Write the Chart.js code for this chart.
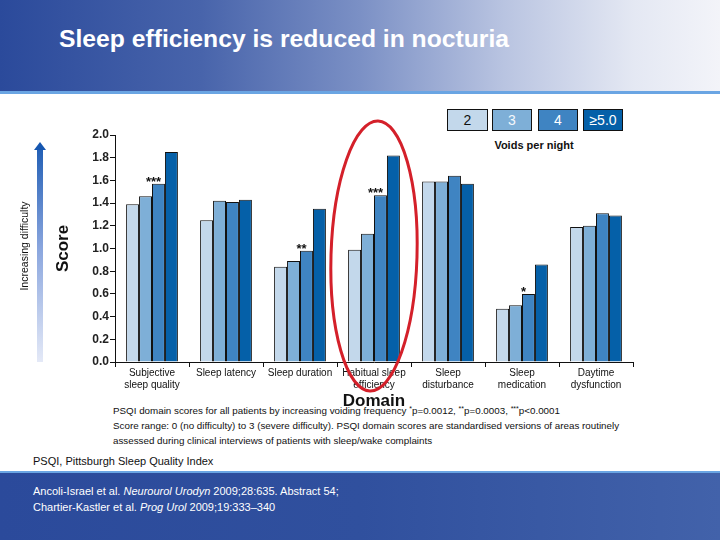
<!DOCTYPE html>
<html>
<head>
<meta charset="utf-8">
<script src="https://cdn.jsdelivr.net/npm/chart.js@4.4.0/dist/chart.umd.min.js"></script>
<style>
body { margin: 0; width: 720px; height: 540px; position: relative; overflow: hidden; background: #fff; font-family: "Liberation Sans", Arial, sans-serif; }
#header { position: absolute; left: 0; top: 0; width: 720px; height: 92px;
  background: linear-gradient(90deg, #2b4a9b 0%, #4864ab 28%, #7b90c5 50%, #b9c4e1 70%, #e4e8f3 88%, #f3f4f9 100%); }
#header h1 { position: absolute; left: 59px; top: 25px; margin: 0; font-size: 24.7px; line-height: 28px; font-weight: bold; color: #fff; white-space: nowrap; }
#headerStripe { position: absolute; left: 0; top: 91px; width: 720px; height: 3px; background: #6aa5e3; }
#footerStripe { position: absolute; left: 0; top: 471px; width: 720px; height: 2px; background: #6aa5e3; }
#footer { position: absolute; left: 0; top: 473px; width: 720px; height: 67px;
  background: linear-gradient(90deg, #2b4a9b 0%, #30509e 50%, #4262aa 100%); }
#refs { position: absolute; left: 33px; top: 10px; color: #fff; font-size: 11px; line-height: 16px; }
#abbrev { position: absolute; left: 33px; top: 455px; font-size: 11px; color: #111; }
#notes { position: absolute; left: 113px; top: 403px; font-size: 9.8px; line-height: 15px; color: #111; white-space: nowrap; }
#notes sup { font-size: 7px; vertical-align: 3px; line-height: 0; }
.legBox { position: absolute; top: 109px; height: 20px; border: 1px solid #111; font-size: 14px; line-height: 20px; text-align: center; }
#legTitle { position: absolute; left: 434px; width: 200px; top: 139px; text-align: center; font-size: 11px; font-weight: bold; color: #111; }
canvas { position: absolute; left: 0; top: 0; }
</style>
</head>
<body>
<div id="header"><h1>Sleep efficiency is reduced in nocturia</h1></div>
<div id="headerStripe"></div>
<div id="legend"></div>
<div id="legTitle">Voids per night</div>
<div id="notes">PSQI domain scores for all patients by increasing voiding frequency <sup>*</sup>p=0.0012, <sup>**</sup>p=0.0003, <sup>***</sup>p&lt;0.0001<br>
Score range: 0 (no difficulty) to 3 (severe difficulty). PSQI domain scores are standardised versions of areas routinely<br>
assessed during clinical interviews of patients with sleep/wake complaints</div>
<div id="abbrev">PSQI, Pittsburgh Sleep Quality Index</div>
<div id="footerStripe"></div>
<div id="footer"><div id="refs">Ancoli-Israel et al. <i>Neurourol Urodyn</i> 2009;28:635. Abstract 54;<br>Chartier-Kastler et al. <i>Prog Urol</i> 2009;19:333–340</div></div>
<canvas id="myChart" width="720" height="540"></canvas>
<script>
"use strict"

// PSQI domains (x categories)
const domains = [
    ["Subjective", "sleep quality"],
    "Sleep latency",
    "Sleep duration",
    ["Habitual sleep", "efficiency"],
    ["Sleep", "disturbance"],
    ["Sleep", "medication"],
    ["Daytime", "dysfunction"]
];

// voids per night groups
const voidGroups = ["2", "3", "4", "≥5.0"];

// mean scores
const voids2 = [1.39, 1.25, 0.84, 0.99, 1.59, 0.47, 1.19];
const voids3 = [1.46, 1.42, 0.89, 1.13, 1.59, 0.50, 1.20];
const voids4 = [1.57, 1.41, 0.98, 1.47, 1.64, 0.60, 1.31];
const voids5plus = [1.85, 1.43, 1.35, 1.82, 1.57, 0.86, 1.29];

// significance marks above the "4" bars
const stars4 = ["***", "", "**", "***", "", "*", ""];

const yMin = 0;
const yMax = 2;
const yStep = 0.2;

const barColors = ["#c3d8eb", "#7eafd7", "#3f84c2", "#0560a8"];
const legendText = ["#111", "#f4f8fc", "#fff", "#fff"];
const legendLeft = [447, 492, 538, 583];
const legendWidth = [39, 38, 38, 38];

// legend boxes
const legend = document.getElementById("legend");
voidGroups.forEach((g, i) => {
    const box = document.createElement("div");
    box.className = "legBox";
    box.style.left = legendLeft[i] + "px";
    box.style.width = legendWidth[i] + "px";
    box.style.background = barColors[i];
    box.style.color = legendText[i];
    box.textContent = g;
    legend.appendChild(box);
});

const extras = {
    id: "extras",
    afterDatasetsDraw(chart) {
        const ctx = chart.ctx;
        const x = chart.scales.x;
        const y = chart.scales.y;
        const meta = chart.getDatasetMeta(2);

        ctx.save();
        ctx.fillStyle = "#111";
        ctx.font = "bold 13px 'Liberation Sans', Arial";
        ctx.textAlign = "center";
        ctx.textBaseline = "alphabetic";
        stars4.forEach((s, i) => {
            if (!s) return;
            const bar = meta.data[i];
            ctx.fillText(s, bar.x - 5, bar.y + 2);
        });

        // red ellipse around habitual sleep efficiency
        ctx.strokeStyle = "#d4202a";
        ctx.lineWidth = 3;
        ctx.beginPath();
        ctx.ellipse(x.getPixelForValue(3), 256, 43, 135, 0.03, 0, Math.PI * 2);
        ctx.stroke();

        // "increasing difficulty" arrow
        const top = y.getPixelForValue(yMax);
        const bottom = y.getPixelForValue(yMin);
        const grad = ctx.createLinearGradient(0, bottom, 0, top);
        grad.addColorStop(0, "#e4e9f7");
        grad.addColorStop(0.5, "#8aa6de");
        grad.addColorStop(1, "#1556b0");
        ctx.fillStyle = grad;
        ctx.fillRect(37, top + 14, 6, bottom - top - 14);
        ctx.beginPath();
        ctx.moveTo(34, top + 15);
        ctx.lineTo(40, top + 7);
        ctx.lineTo(46, top + 15);
        ctx.closePath();
        ctx.fillStyle = "#1556b0";
        ctx.fill();

        ctx.translate(25, 246);
        ctx.rotate(-Math.PI / 2);
        ctx.fillStyle = "#111";
        ctx.font = "10.5px 'Liberation Sans', Arial";
        ctx.textBaseline = "middle";
        ctx.fillText("Increasing difficulty", 0, 0);
        ctx.restore();
    }
};

const ctx = document.getElementById("myChart").getContext("2d");

new Chart(ctx, {
    type: "bar",
    data: {
        labels: domains,
        datasets: [voids2, voids3, voids4, voids5plus].map((d, i) => ({
            label: voidGroups[i],
            data: d,
            backgroundColor: barColors[i],
            borderColor: "#111",
            borderWidth: 1,
            categoryPercentage: 0.7,
            barPercentage: 1.0
        }))
    },
    options: {
        responsive: false,
        animation: false,
        layout: {
            padding: { left: 53, right: 87, top: 135, bottom: 128 }
        },
        scales: {
            y: {
                min: yMin,
                max: yMax,
                afterFit: (scale) => { scale.width = 62; },
                ticks: {
                    stepSize: yStep,
                    padding: 1,
                    color: "#222",
                    font: { family: "'Liberation Sans', Arial", size: 12, weight: "bold" },
                    callback: (v) => v.toFixed(1)
                },
                grid: { drawOnChartArea: false, tickLength: 5, color: "#111" },
                border: { color: "#111", width: 1 },
                title: {
                    display: true,
                    text: "Score",
                    padding: 0,
                    color: "#111",
                    font: { family: "'Liberation Sans', Arial", size: 17, weight: "bold" }
                }
            },
            x: {
                afterFit: (scale) => { scale.height = 50; },
                ticks: {
                    padding: 0,
                    maxRotation: 0,
                    autoSkip: false,
                    color: "#111",
                    font: { family: "'Liberation Sans', Arial", size: 10, lineHeight: 1.2 }
                },
                grid: { drawOnChartArea: false, tickLength: 5, color: "#111", offset: true },
                border: { color: "#111", width: 1 },
                title: {
                    display: true,
                    text: "Domain",
                    padding: 0,
                    color: "#111",
                    font: { family: "'Liberation Sans', Arial", size: 17, weight: "bold" }
                }
            }
        },
        plugins: {
            legend: { display: false },
            tooltip: { enabled: false }
        }
    },
    plugins: [extras]
});
</script>
</body>
</html>
